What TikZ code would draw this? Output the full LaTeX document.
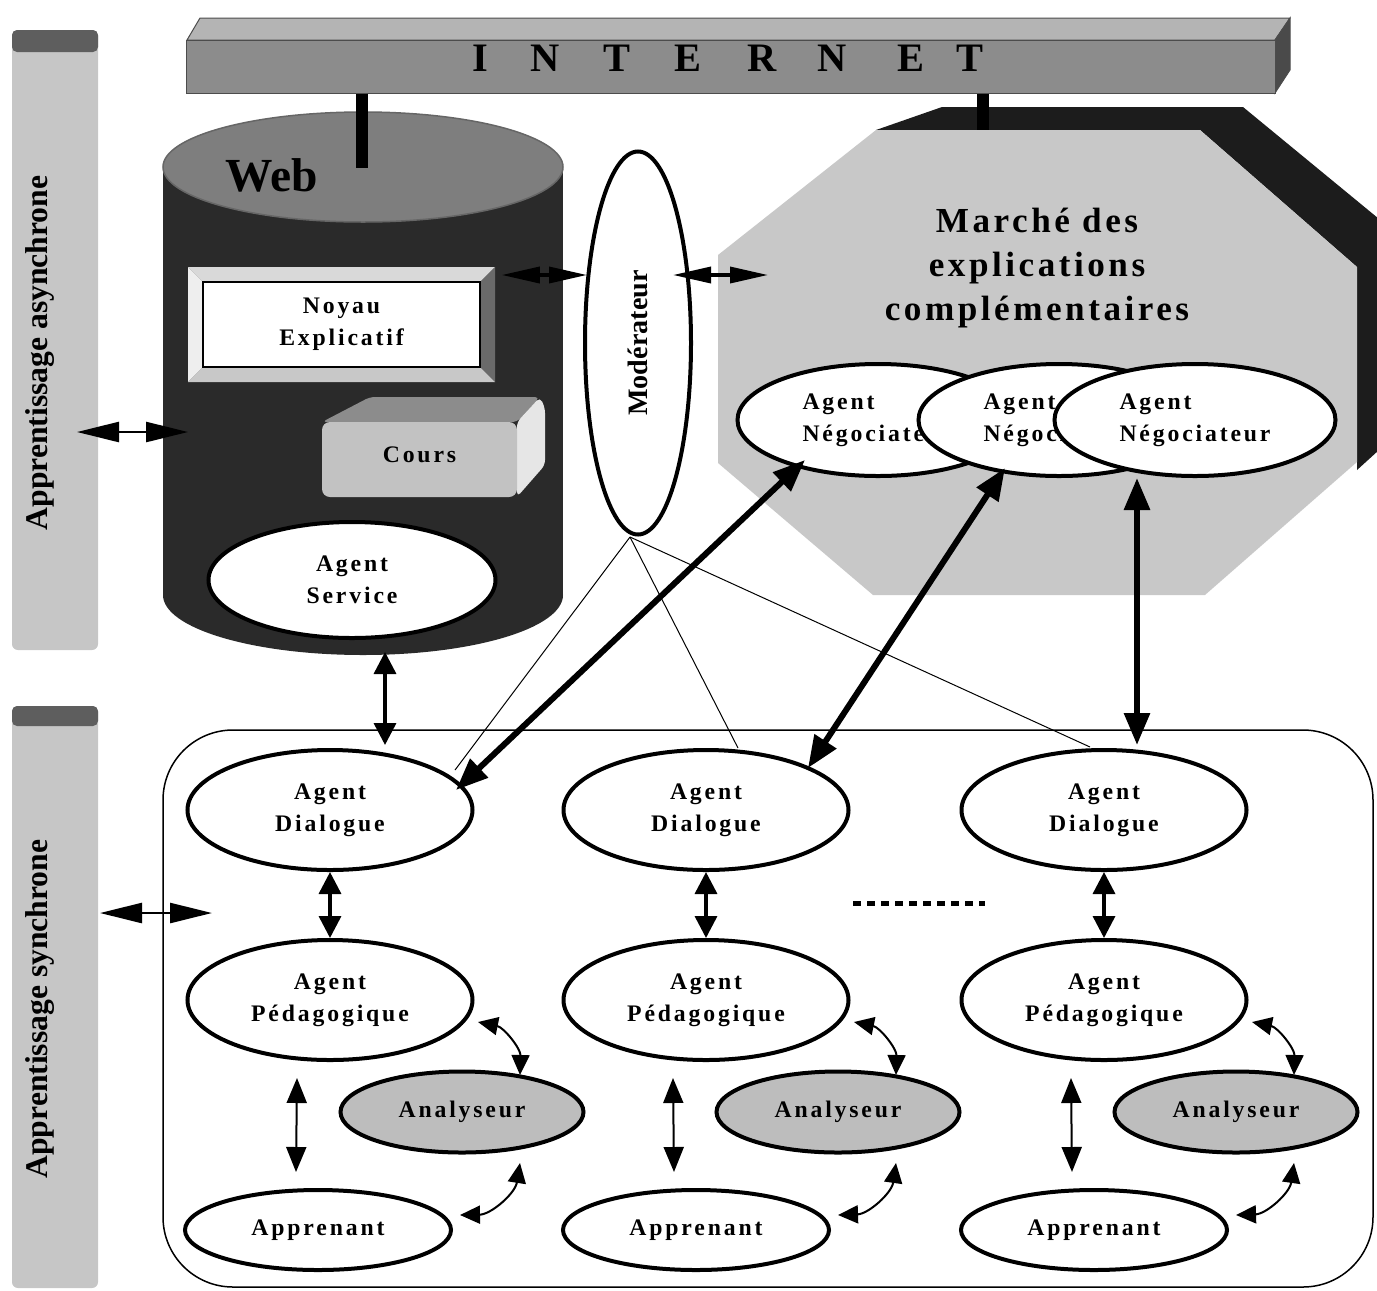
\documentclass[tikz,border=0pt]{standalone}
\usepackage{fontspec}
\setmainfont{Liberation Serif}
\newfontfamily\lblfont[LetterSpace=12]{Liberation Serif}
\newfontfamily\mktfont[LetterSpace=10]{Liberation Serif}
\usetikzlibrary{arrows.meta,shapes.geometric,calc}

\definecolor{barbg}{HTML}{C6C6C6}
\definecolor{barcap}{HTML}{5E5E5E}
\definecolor{inetfront}{HTML}{8C8C8C}
\definecolor{inettop}{HTML}{B4B4B4}
\definecolor{inetside}{HTML}{4A4A4A}
\definecolor{cyltop}{HTML}{7E7E7E}
\definecolor{cylbody}{HTML}{2A2A2A}
\definecolor{mktface}{HTML}{C8C8C8}
\definecolor{mktshadow}{HTML}{1C1C1C}
\definecolor{coursfront}{HTML}{C2C2C2}
\definecolor{courstop}{HTML}{8C8C8C}
\definecolor{coursside}{HTML}{E6E6E6}
\definecolor{bevtop}{HTML}{D9D9D9}
\definecolor{bevleft}{HTML}{EEEEEE}
\definecolor{bevright}{HTML}{6A6A6A}
\definecolor{bevbot}{HTML}{C8C8C8}
\definecolor{anafill}{HTML}{BDBDBD}

\begin{document}
\begin{tikzpicture}[x=0.2mm,y=-0.2mm,
  agentfont/.style={font=\lblfont\fontsize{13.5}{18}\selectfont\bfseries},
  agent/.style={ellipse, draw, line width=0.8mm, fill=white, agentfont,
    align=center, inner sep=0pt},
  dlgsize/.style={minimum width=57mm, minimum height=24mm},
  negsize/.style={minimum width=56.2mm, minimum height=22.4mm, align=left},
  anasize/.style={minimum width=48.6mm, minimum height=16.2mm, fill=anafill},
  appsize/.style={minimum width=53.2mm, minimum height=16mm},
  bandfont/.style={font=\fontsize{18}{20}\selectfont\bfseries},
  bigdbl/.style={line width=1.2mm, >={Triangle[length=6.4mm,width=5mm]}, <->},
  middbl/.style={line width=0.7mm, >={Triangle[length=4.4mm,width=4.4mm]}, <->},
  thindbl/.style={line width=0.4mm, >={Triangle[length=5mm,width=4mm]}, <->},
  curvdbl/.style={line width=0.4mm, >={Triangle[length=4mm,width=3.6mm]}, <->},
  longdbl/.style={line width=0.5mm, >={Triangle[length=8.4mm,width=4mm]}, <->},
  moddbl/.style={line width=0.7mm, >={Triangle[length=7.6mm,width=3.2mm]}, <->},
  thinline/.style={line width=0.2mm},
  dotline/.style={line width=1mm, dash pattern=on 1.6mm off 1.2mm},
]
\useasboundingbox (0,0) rectangle (1377,1290);

% side bands
\fill[barbg, rounded corners=1.2mm] (12,30) rectangle (98,650);
\fill[barcap, rounded corners=1mm] (12,30) rectangle (98,52);
\fill[barbg, rounded corners=1.2mm] (12,706) rectangle (98,1288);
\fill[barcap, rounded corners=1mm] (12,706) rectangle (98,726);
\node[rotate=90, bandfont] (asynclbl) at (40,353) {Apprentissage asynchrone};
\node[rotate=90, bandfont] (synclbl) at (40,1009) {Apprentissage synchrone};

% internet bar
\filldraw[fill=inettop, draw=black!70, line width=0.2mm] (187,40) -- (200,18) -- (1290,18) -- (1275,40) -- cycle;
\filldraw[fill=inetside, draw=black!70, line width=0.2mm] (1275,40) -- (1290,18) -- (1290,70) -- (1275,93) -- cycle;
\node[fill=inetfront, draw=black!70, line width=0.2mm, minimum width=217.6mm, minimum height=10.6mm, inner sep=0pt] (inet) at (731,66.5) {};
\foreach \ch/\xx in {I/480,N/545,T/617,E/688,R/762,N/832,E/911,T/970}
  \node[font=\fontsize{23}{23}\selectfont\bfseries, inner sep=0pt] (inet\xx) at (\xx,58) {\ch};

% market of explanations (octagon with dark relief)
\fill[mktshadow] (876,130) -- (942,107) -- (1243,107) -- (1390,228) -- (1390,440) -- (1357,470) -- (1357,267) -- (1200,130) -- cycle;
\fill[mktface] (876,130) -- (1200,130) -- (1357,267) -- (1357,462) -- (1205,595) -- (873,595) -- (718,463) -- (718,255) -- cycle;
\coordinate (mkttop) at (983,130);
\draw[line width=2.4mm] (inet.south -| mkttop) -- (mkttop);
\node[font=\mktfont\fontsize{20}{25}\selectfont\bfseries, align=center] (mkt) at (1037,268) {Marché des\\explications\\complémentaires};

% web cylinder
\fill[cylbody] (163,167) rectangle (563,595);
\fill[cylbody] (363,595) ellipse [x radius=200, y radius=60];
\filldraw[fill=cyltop, draw=black!60, line width=0.3mm] (363,167) ellipse [x radius=200, y radius=55];
\coordinate (webtop) at (362,168);
\draw[line width=2.4mm] (inet.south -| webtop) -- (webtop);
\node[font=\fontsize{27}{27}\selectfont\bfseries] (web) at (272,175) {Web};

% explanatory kernel with bevel
\fill[bevtop] (188,267) -- (495,267) -- (480,282) -- (203,282) -- cycle;
\fill[bevleft] (188,267) -- (203,282) -- (203,367) -- (188,382) -- cycle;
\fill[bevright] (495,267) -- (495,382) -- (480,367) -- (480,282) -- cycle;
\fill[bevbot] (188,382) -- (495,382) -- (480,367) -- (203,367) -- cycle;
\node[draw, fill=white, line width=0.3mm, minimum width=55.4mm, minimum height=17mm,
  agentfont, align=center, inner sep=0pt] (noyau) at (341.5,324.5) {Noyau\\Explicatif};

% course block
\fill[courstop, rounded corners=1mm] (322,422) -- (370,397) -- (540,397) -- (517,422) -- cycle;
\fill[coursside, rounded corners=1mm] (517,422) -- (540,397) -- (545,408) -- (545,465) -- (517,497) -- cycle;
\node[fill=coursfront, rounded corners=1.6mm, minimum width=39mm, minimum height=15mm,
  agentfont, inner sep=0pt] (cours) at (419.5,459.5) {\raisebox{1.8mm}{Cours}};

\node[agent, minimum width=57.4mm, minimum height=23.2mm] (svc) at (352,580) {Agent\\Service};

% moderator
\node[agent, rotate=90, minimum width=76.6mm, minimum height=21.2mm,
  font=\fontsize{16}{16}\selectfont\bfseries] (mod) at (638,343) {Modérateur};

% negotiators
\node[agent, negsize] (neg1) at (878,420) {Agent\\Négociateur};
\node[agent, negsize] (neg2) at (1059,420) {Agent\\Négociateur};
\node[agent, negsize] (neg3) at (1195,420) {Agent\\Négociateur};

% synchronous area
\draw[line width=0.3mm, rounded corners=14mm] (163,730) rectangle (1373,1287);

\foreach \i/\xd/\xa/\xp in {1/330/462/318, 2/706/838/696, 3/1104/1236/1094} {
  \node[agent, dlgsize] (dlg\i) at (\xd,810) {Agent\\Dialogue};
  \node[agent, dlgsize] (ped\i) at (\xd,1000) {Agent\\Pédagogique};
  \node[agent, anasize] (ana\i) at (\xa,1112) {Analyseur};
  \node[agent, appsize] (app\i) at (\xp,1230) {Apprenant};
  \draw[middbl] (dlg\i.south) -- (ped\i.north);
  \draw[thindbl] ([shift={(-33,78)}]ped\i.center) -- ([shift={(-22,-58)}]app\i.center);
  \draw[curvdbl] ([shift={(148,22)}]ped\i.center) to[bend left=40] ([shift={(58,-37)}]ana\i.center);
  \draw[curvdbl] ([shift={(58,51)}]ana\i.center) to[bend left=40] ([shift={(142,-15)}]app\i.center);
}

\coordinate (dotsL) at (853,903);
\coordinate (dotsR) at (985,903);
\draw[dotline] (dotsL) -- (dotsR);

% moderator links
\draw[thinline] ([shift={(-8,194)}]mod.center) -- ([shift={(125,-40)}]dlg1.center);
\draw[thinline] ([shift={(-8,194)}]mod.center) -- ([shift={(32,-62)}]dlg2.center);
\draw[thinline] ([shift={(-8,194)}]mod.center) -- ([shift={(-14,-63)}]dlg3.center);

% negotiation links
\draw[bigdbl] ([shift={(126,-20)}]dlg1.center) -- ([shift={(-73,40)}]neg1.center);
\draw[bigdbl] ([shift={(102,-42)}]dlg2.center) -- ([shift={(-54,48)}]neg2.center);
\draw[bigdbl] ([shift={(-58,58)}]neg3.center) -- ([shift={(33,-65)}]dlg3.center);

% service link
\draw[middbl] ([shift={(33,72)}]svc.center) -- ([shift={(55,-65)}]dlg1.center);

% kernel, moderator and market links
\coordinate (mktin) at (768,275);
\draw[moddbl] ([shift={(21,-49.5)}]noyau.east) -- ([shift={(-51,-68)}]mod.center);
\draw[moddbl] ([shift={(35,-68)}]mod.center) -- (mktin);

% links to the side bands
\coordinate (asyL) at (77,432);
\coordinate (asyR) at (188,432);
\draw[longdbl] (asyL) -- (asyR);
\coordinate (syL) at (100,913);
\coordinate (syR) at (212,913);
\draw[longdbl] (syL) -- (syR);
\end{tikzpicture}
\end{document}
